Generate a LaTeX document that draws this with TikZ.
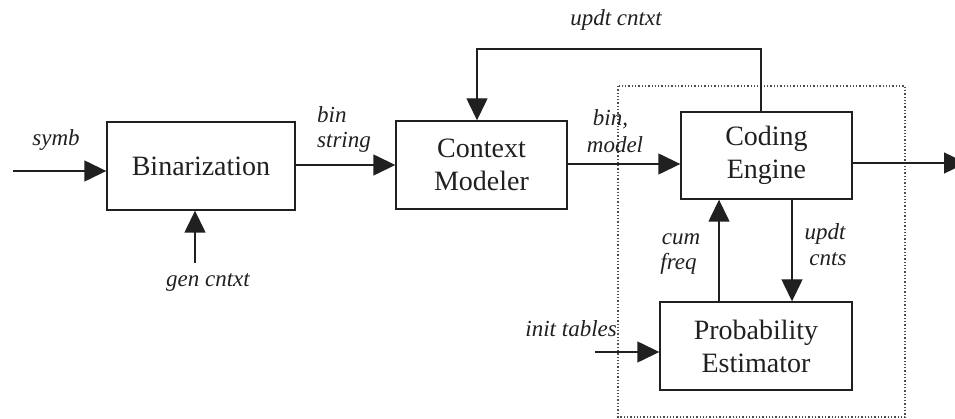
\documentclass[tikz,border=0pt]{standalone}
\usepackage{fontspec}
\setmainfont{Liberation Serif}
\usetikzlibrary{arrows.meta}
\definecolor{ink}{HTML}{202020}
\tikzset{
  x=1pt, y=-1pt,
  block/.style={draw=ink, line width=1.4pt, inner sep=0pt, align=center,
    text=ink, font=\fontsize{28}{33}\selectfont},
  flow/.style={draw=ink, line width=1.4pt,
    -{Triangle[length=22pt,width=21pt]}},
  lbl/.style={inner sep=0pt, text=ink, font=\fontsize{23}{26}\selectfont\itshape},
  group/.style={draw=ink!80, line width=1.3pt, dotted}
}
\begin{document}
\begin{tikzpicture}
\useasboundingbox (0,0) rectangle (955,419);
\clip (0,0) rectangle (955,419);

% dotted boundary around the arithmetic coder
\draw[group] (618,86) rectangle (905,417);

% processing blocks
\node[block, minimum width=188pt, minimum height=88pt] (bin) at (201,166) {Binarization};
\node[block, minimum width=171pt, minimum height=88pt] (ctx) at (481.5,165) {Context\\Modeler};
\node[block, minimum width=171pt, minimum height=87pt] (eng) at (766.5,155.5) {Coding\\Engine};
\node[block, minimum width=192pt, minimum height=88pt] (prob) at (756,346) {Probability\\Estimator};

% free ends of the connectors
\coordinate (symbin) at (13,171);
\coordinate (genin) at (195,263);
\coordinate (initin) at (595,352);
\coordinate (out) at (966,163);
\coordinate (fbR) at (761,49);
\coordinate (fbL) at (477,49);

% connectors
\draw[flow] (symbin) -- (symbin -| bin.west);
\draw[flow] (genin) -- (genin |- bin.south);
\draw[flow] (bin.east |- 0,165) -- (ctx.west |- 0,165);
\draw[flow] (ctx.east |- 0,164) -- (eng.west |- 0,164);
\draw[flow] (eng.east |- 0,163) -- (out);
\draw[flow] (fbR |- eng.north) -- (fbR) -- (fbL) -- (fbL |- ctx.north);
\draw[flow] (719,0 |- prob.north) -- (719,0 |- eng.south);
\draw[flow] (792,0 |- eng.south) -- (792,0 |- prob.north);
\draw[flow] (initin) -- (initin -| prob.west);

% connector labels
\node[lbl, anchor=base] (tsymb) at (56,146) {symb};
\node[lbl, anchor=base] (tgen) at (208,287) {gen cntxt};
\node[lbl, anchor=base west] (tbin1) at (317,123) {bin};
\node[lbl, anchor=base west] (tbin2) at (317,148) {string};
\node[lbl, anchor=base] (tupd) at (616,26) {updt cntxt};
\node[lbl, anchor=base] (tbm1) at (610.5,126) {bin,};
\node[lbl, anchor=base] (tbm2) at (615,153) {model};
\node[lbl, anchor=base] (tcum1) at (681,245) {cum};
\node[lbl, anchor=base] (tcum2) at (678.5,270) {freq};
\node[lbl, anchor=base] (tuc1) at (825,240) {updt};
\node[lbl, anchor=base] (tuc2) at (828,266) {cnts};
\node[lbl, anchor=base east] (tinit) at (617,337) {init tables};
\end{tikzpicture}
\end{document}
